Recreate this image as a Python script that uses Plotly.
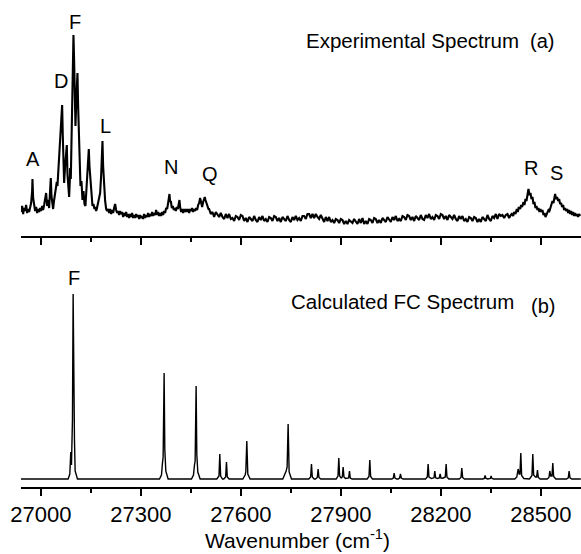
import plotly.graph_objects as go

FONT = "Arial, 'Liberation Sans', Helvetica, sans-serif"

# ---------------- Experimental spectrum (a) ----------------
wn_a = [26941, 26944, 26947, 26950, 26953, 26956, 26959, 26962, 26965, 26968,
        26971, 26974, 26975, 26977, 26980, 26983, 26986, 26989, 26992, 26995,
        26998, 27001, 27004, 27007, 27010, 27013, 27016, 27019, 27022, 27025,
        27028, 27030, 27032, 27035, 27037, 27040, 27043, 27046, 27048, 27050,
        27052, 27055, 27058, 27061, 27064, 27066, 27068, 27070, 27073, 27076,
        27078, 27080, 27082, 27085, 27087, 27088, 27090, 27092, 27095, 27098,
        27100, 27102, 27104, 27107, 27110, 27112, 27114, 27116, 27119, 27122,
        27125, 27128, 27131, 27134, 27137, 27140, 27144, 27146, 27148, 27150,
        27152, 27155, 27158, 27161, 27163, 27166, 27168, 27171, 27173, 27175,
        27178, 27181, 27183, 27185, 27187, 27190, 27193, 27196, 27199]
int_a = [24, 30, 22, 28, 25, 31, 23, 27, 24, 29,
         33, 45, 57, 38, 30, 25, 29, 23, 27, 24,
         28, 25, 30, 26, 31, 38, 43, 30, 36, 28,
         42, 58, 40, 33, 27, 36, 42, 48, 54, 50,
         62, 72, 90, 110, 131, 100, 60, 53, 70, 82,
         91, 62, 50, 39, 55, 68, 57, 95, 150, 201,
         175, 120, 110, 140, 163, 130, 100, 75, 50, 55,
         36, 45, 32, 30, 50, 65, 87, 70, 60, 46,
         40, 30, 32, 27, 29, 25, 27, 31, 35, 38,
         43, 60, 80, 95, 70, 49, 35, 27, 25]

wn_b = [27202, 27205, 27208, 27211, 27214, 27217, 27220, 27223, 27226, 27229,
        27232, 27235, 27238, 27241, 27244, 27247, 27250, 27253, 27256, 27259,
        27262, 27265, 27268, 27271, 27274, 27277, 27280, 27283, 27286, 27289,
        27292, 27295, 27298, 27301, 27304, 27307, 27310, 27313, 27316, 27319,
        27322, 27325, 27328, 27331, 27334, 27337, 27340, 27343, 27346, 27349,
        27352, 27355, 27358, 27361, 27364, 27367]
int_b = [27, 23, 27, 22, 26, 23, 28, 32, 26, 23,
         25, 21, 25, 22, 24, 19, 23, 20, 24, 19,
         22, 18, 22, 19, 23, 18, 21, 18, 22, 19,
         21, 17, 21, 18, 20, 17, 22, 18, 21, 19,
         23, 19, 22, 20, 24, 20, 23, 21, 26, 21,
         24, 20, 23, 20, 24, 21]

wn_c = [27370, 27373, 27376, 27379, 27382, 27384, 27386, 27388, 27390, 27393,
        27396, 27399, 27402, 27405, 27408, 27411, 27414, 27416, 27418, 27421,
        27424, 27427, 27430, 27433, 27436, 27439, 27442, 27445, 27448, 27451,
        27454, 27457, 27460, 27463, 27466, 27469, 27472, 27475, 27478, 27481,
        27484, 27487, 27490, 27492, 27494, 27497, 27500, 27503]
int_c = [25, 23, 28, 27, 33, 36, 42, 34, 35, 28,
         30, 26, 28, 25, 29, 27, 31, 36, 29, 24,
         27, 23, 27, 24, 27, 24, 27, 23, 27, 25,
         28, 24, 27, 25, 28, 26, 31, 33, 38, 31,
         29, 34, 36, 39, 36, 33, 29, 27]

wn_d = [27505, 27510, 27515, 27520, 27525, 27530, 27535, 27540, 27545, 27550,
        27555, 27560, 27565, 27570, 27575, 27580, 27585, 27590, 27595, 27600,
        27605, 27610, 27615, 27620, 27625, 27630, 27635, 27640, 27645, 27650,
        27655, 27660, 27665, 27670, 27675, 27680, 27685, 27690, 27695, 27700,
        27705, 27710, 27715, 27720, 27725, 27730, 27735, 27740, 27745, 27750,
        27755, 27760, 27765, 27770, 27775, 27780, 27785, 27790, 27795, 27800,
        27805, 27810, 27815, 27820, 27825, 27830, 27835, 27840, 27845, 27850,
        27855, 27860, 27865, 27870, 27875, 27880, 27885, 27890, 27895, 27900,
        27905, 27910, 27915, 27920, 27925, 27930, 27935, 27940, 27945, 27950,
        27955, 27960, 27965, 27970, 27975, 27980, 27985, 27990, 27995, 28000,
        28005, 28010, 28015, 28020, 28025, 28030, 28035, 28040, 28045, 28050,
        28055, 28060, 28065, 28070, 28075, 28080, 28085, 28090, 28095, 28100,
        28105, 28110, 28115, 28120, 28125, 28130, 28135, 28140, 28145, 28150,
        28155, 28160, 28165, 28170, 28175, 28180, 28185, 28190, 28195, 28200,
        28205, 28210, 28215, 28220, 28225, 28230, 28235, 28240, 28245, 28250,
        28255, 28260, 28265, 28270, 28275, 28280, 28285, 28290, 28295, 28300,
        28305, 28310, 28315, 28320, 28325, 28330, 28335, 28340, 28345, 28350,
        28355, 28360, 28365, 28370, 28375, 28380, 28385, 28390, 28395, 28400,
        28405, 28410]
int_d = [27, 22, 24, 19, 24, 21, 19, 23, 19, 17,
         22, 18, 22, 17, 18, 15, 20, 19, 16, 21,
         20, 15, 18, 14, 19, 17, 15, 20, 16, 14,
         19, 16, 20, 15, 17, 14, 19, 18, 15, 20,
         19, 15, 18, 14, 19, 17, 15, 20, 16, 14,
         19, 16, 20, 16, 18, 15, 20, 20, 17, 22,
         22, 18, 22, 18, 22, 19, 17, 21, 17, 14,
         19, 15, 19, 14, 16, 13, 17, 16, 13, 17,
         16, 12, 15, 12, 16, 14, 13, 17, 14, 12,
         17, 13, 18, 12, 15, 12, 17, 16, 13, 18,
         17, 13, 16, 13, 18, 16, 14, 19, 16, 14,
         19, 16, 20, 15, 17, 15, 20, 19, 16, 21,
         20, 16, 19, 15, 20, 18, 16, 21, 17, 16,
         21, 18, 22, 17, 19, 16, 21, 20, 17, 22,
         21, 17, 20, 16, 21, 19, 17, 21, 17, 15,
         20, 17, 20, 15, 17, 14, 19, 18, 15, 19,
         18, 14, 17, 14, 19, 17, 15, 21, 17, 15,
         20, 18, 22, 17, 22, 20, 21, 18, 21, 22,
         18, 21]

wn_e = [28413, 28417, 28420, 28424, 28428, 28431, 28434, 28438, 28441, 28444,
        28448, 28451, 28454, 28457, 28460, 28463, 28466, 28469, 28472, 28475,
        28478, 28481, 28484, 28487, 28490, 28493, 28496, 28499, 28502, 28505,
        28508, 28511, 28514, 28517, 28520, 28523, 28526, 28529, 28532, 28535,
        28538, 28541, 28543, 28546, 28549, 28552, 28555, 28558, 28561, 28564,
        28567, 28570, 28573, 28576, 28579, 28582, 28585, 28588, 28591, 28594,
        28597, 28600, 28603, 28606, 28609, 28612, 28615, 28618]
int_e = [22, 20, 24, 22, 27, 24, 29, 27, 31, 29,
         34, 31, 37, 35, 42, 47, 41, 43, 37, 39,
         32, 34, 28, 30, 26, 28, 24, 27, 24, 26,
         21, 23, 19, 21, 23, 26, 25, 29, 31, 35,
         33, 38, 42, 37, 39, 35, 37, 32, 33, 29,
         31, 26, 28, 25, 27, 23, 26, 22, 25, 21,
         24, 20, 23, 20, 22, 19, 22, 20]

exp_wn = wn_a + wn_b + wn_c + wn_d + wn_e
exp_int = int_a + int_b + int_c + int_d + int_e

# ---------------- Calculated FC spectrum (b) ----------------
calc_wn = [26940,
           27082, 27087, 27090, 27092, 27095, 27097, 27099, 27101, 27103, 27110,
           27356, 27362, 27365, 27367, 27370, 27372, 27375, 27382,
           27452, 27458, 27461, 27463, 27466, 27468, 27471, 27478,
           27528, 27534.5, 27537, 27539.5, 27545,
           27549, 27554.5, 27557, 27559.5, 27565,
           27606, 27613, 27615, 27618, 27621, 27628,
           27726, 27732, 27736, 27739, 27742, 27745, 27752,
           27804, 27809.5, 27812, 27814.5, 27820,
           27824, 27829.5, 27832, 27834.5, 27840,
           27886, 27891.5, 27894, 27896.5, 27901, 27904.5, 27907, 27909.5, 27914,
           27923.5, 27926, 27928.5, 27934,
           27979, 27984.5, 27987, 27989.5, 27995,
           28053, 28057.5, 28060, 28062.5, 28068,
           28072, 28076.5, 28079, 28081.5, 28087,
           28154, 28159.5, 28162, 28164.5, 28172, 28179.5, 28182, 28184.5, 28190,
           28195.5, 28198, 28200.5, 28206, 28213.5, 28216, 28218.5, 28224,
           28255, 28260.5, 28263, 28265.5, 28271,
           28326, 28330.5, 28333, 28335.5, 28341,
           28344, 28348.5, 28351, 28353.5, 28359,
           28422, 28428, 28432, 28435, 28437.5, 28440, 28442.5, 28449,
           28466, 28473.5, 28476, 28478.5, 28484, 28487.5, 28490, 28492.5, 28498,
           28519, 28524.5, 28527, 28530, 28533.5, 28536, 28538.5, 28545,
           28577, 28582.5, 28585, 28587.5, 28593,
           28620]
calc_int = [0,
            0, 5, 27, 14, 60, 185, 60, 39, 8, 0,
            0, 4, 16, 22, 106, 30, 8, 0,
            0, 4, 14, 18, 93, 25, 7, 0,
            0, 3, 25, 3, 0,
            0, 2, 17, 2, 0,
            0, 4, 7, 38, 5, 0,
            0, 4, 8, 12, 55, 7, 0,
            0, 2, 15, 2, 0,
            0, 1.5, 10, 1.5, 0,
            0, 3, 21, 3, 1, 2, 12, 2, 0.5,
            1, 8, 1, 0,
            0, 2.5, 19, 2.5, 0,
            0, 1, 6, 1, 0,
            0, 1, 5, 1, 0,
            0, 2, 15, 2, 0.5, 1.2, 8, 1.2, 0.5,
            1, 5, 1, 0.8, 2, 15, 2, 0,
            0, 1.5, 11, 1.5, 0,
            0, 0.6, 3.5, 0.6, 0,
            0, 0.5, 3, 0.5, 0,
            0, 2, 10, 5, 5, 26, 3.5, 0.5,
            0, 3.5, 25, 4, 2, 2, 9, 1.5, 0,
            0, 1.5, 8, 3, 3, 16, 2.5, 0,
            0, 1.2, 8, 1.2, 0,
            0]

# ---------------- Labels ----------------
top_labels = ["A", "D", "F", "L", "N", "Q", "R", "S"]
top_label_wn = [26978, 27060, 27103, 27193, 27390, 27507, 28470, 28548]
top_label_int = [77, 155, 214, 110, 69, 62, 68, 63]

fig = go.Figure()
fig.add_trace(go.Scatter(x=exp_wn, y=exp_int, mode="lines",
                         line=dict(color="black", width=2.1),
                         xaxis="x2", yaxis="y2", hoverinfo="skip"))
fig.add_trace(go.Scatter(x=calc_wn, y=calc_int, mode="lines",
                         line=dict(color="black", width=1.4),
                         xaxis="x", yaxis="y", hoverinfo="skip"))

axis_common = dict(range=[26940.6, 28620.6], showline=True, linecolor="black",
                   linewidth=2, ticks="outside", ticklen=7, tickwidth=2,
                   tickcolor="black", tick0=27000, dtick=300, showgrid=False,
                   zeroline=False, tickformat="d",
                   minor=dict(ticks="outside", tick0=27000, dtick=150, ticklen=4,
                              tickwidth=1.5, tickcolor="black", showgrid=False))

fig.update_layout(
    width=581, height=554,
    margin=dict(l=21, r=0, t=0, b=67),
    paper_bgcolor="white", plot_bgcolor="white", showlegend=False,
    xaxis=dict(**axis_common, anchor="y",
               tickfont=dict(size=22, family=FONT, color="black")),
    yaxis=dict(domain=[0, 0.4456], range=[-8, 209], visible=False),
    xaxis2=dict(**axis_common, anchor="y2", showticklabels=False),
    yaxis2=dict(domain=[0.5154, 1], range=[0, 236], visible=False),
)

ann = []
for t, xv, yv in zip(top_labels, top_label_wn, top_label_int):
    ann.append(dict(text=t, x=xv, y=yv, xref="x2", yref="y2", showarrow=False,
                    xanchor="center", yanchor="middle",
                    font=dict(size=20, family=FONT, color="black")))
ann.append(dict(text="Experimental Spectrum", x=27790, y=196, xref="x2", yref="y2",
                xanchor="left", yanchor="middle", showarrow=False,
                font=dict(size=20.5, family=FONT, color="black")))
ann.append(dict(text="(a)", x=28504, y=195, xref="x2", yref="y2",
                xanchor="center", yanchor="middle",
                showarrow=False, font=dict(size=20, family=FONT, color="black")))
ann.append(dict(text="F", x=27099, y=201, xref="x", yref="y", showarrow=False,
                xanchor="center", yanchor="middle",
                font=dict(size=20, family=FONT, color="black")))
ann.append(dict(text="Calculated FC Spectrum", x=27745, y=177, xref="x", yref="y",
                xanchor="left", yanchor="middle", showarrow=False,
                font=dict(size=20.5, family=FONT, color="black")))
ann.append(dict(text="(b)", x=28507, y=173, xref="x", yref="y",
                xanchor="center", yanchor="middle",
                showarrow=False, font=dict(size=20, family=FONT, color="black")))
ann.append(dict(text="Wavenumber (cm<sup>-1</sup>)", x=0.494, y=-0.107,
                xref="paper", yref="paper", showarrow=False,
                xanchor="center", yanchor="middle",
                font=dict(size=21, family=FONT, color="black")))
fig.update_layout(annotations=ann)

fig.write_html("out.html", config={"displayModeBar": False},
               post_script="document.body.style.margin='0';")
